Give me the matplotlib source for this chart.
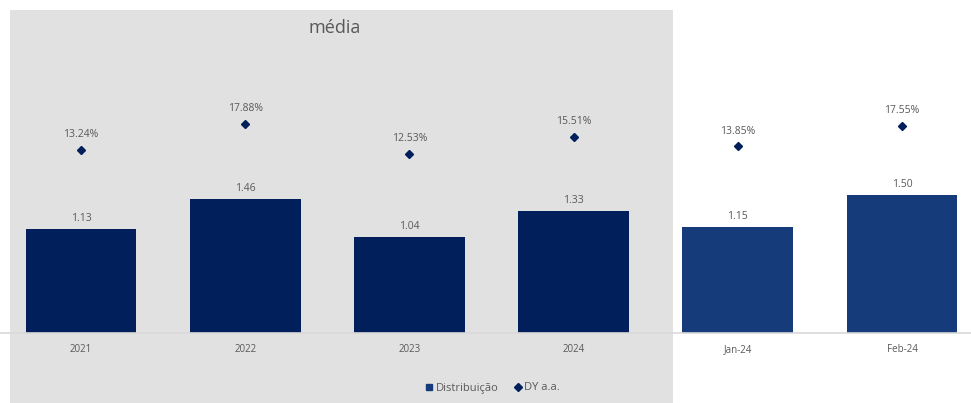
import matplotlib.pyplot as plt
from matplotlib.patches import Rectangle
from matplotlib.lines import Line2D

# Data
categories = ['2021', '2022', '2023', '2024', 'Jan-24', 'Feb-24']
distribuicao = [1.13, 1.46, 1.04, 1.33, 1.15, 1.50]
dy_aa = [0.1324, 0.1788, 0.1253, 0.1551, 0.1385, 0.1755]

navy = '#001f5b'
blue = '#163b7a'
text_gray = '#595959'
bar_colors = [navy, navy, navy, navy, blue, blue]

fig = plt.figure(figsize=(9.71, 4.03), dpi=100)

# Gray "média" panel behind the yearly bars
panel = Rectangle((10 / 971, 0), 663 / 971, 393 / 403,
                  transform=fig.transFigure, facecolor='#e1e1e1',
                  edgecolor='none', zorder=-10)
fig.add_artist(panel)
fig.text(335 / 971, 1 - 28 / 403, 'média', ha='center', va='center',
         fontsize=13, color=text_gray, family='Open Sans')

ax = fig.add_axes([0, 70 / 403, 1, 293 / 403])
ax.set_facecolor('none')
x = list(range(len(categories)))
ax.bar(x, distribuicao, width=0.675, color=bar_colors, zorder=2)
for xi, v in zip(x, distribuicao):
    ax.annotate(f'{v:.2f}', (xi, v), xytext=(0, 3.5), textcoords='offset points',
                ha='center', va='bottom', fontsize=7.5, color=text_gray,
                family='Open Sans')

ax.set_xlim(-81 / 164.2, -81 / 164.2 + 971 / 164.2)
ax.set_ylim(0, 293 / 92)
ax.set_xticks(x)
ax.set_xticklabels(categories, fontsize=7, color=text_gray, family='Open Sans')
ax.tick_params(axis='x', length=0, pad=8)
ax.set_yticks([])
for s in ['top', 'left', 'right']:
    ax.spines[s].set_visible(False)
ax.spines['bottom'].set_color('#d9d9d9')
ax.spines['bottom'].set_linewidth(1.2)

ax2 = ax.twinx()
ax2.plot(x, dy_aa, linestyle='none', marker='D', markersize=4, color=navy, zorder=3)
for xi, v in zip(x, dy_aa):
    ax2.annotate(f'{v * 100:.2f}%', (xi, v), xytext=(0, 7), textcoords='offset points',
                 ha='center', va='bottom', fontsize=7.5, color=text_gray,
                 family='Open Sans')
ax2.set_ylim(-0.1946, 0.3286)
ax2.set_yticks([])
for s in ['top', 'left', 'right', 'bottom']:
    ax2.spines[s].set_visible(False)

handles = [Line2D([], [], linestyle='none', marker='s', markersize=5, color=blue),
           Line2D([], [], linestyle='none', marker='D', markersize=4, color=navy)]
fig.legend(handles, ['Distribuição', 'DY a.a.'], loc='center',
           bbox_to_anchor=(492 / 971, 1 - 388 / 403), ncol=2, frameon=False,
           prop={'family': 'Open Sans', 'size': 8}, labelcolor=text_gray,
           handletextpad=0.1, columnspacing=1.2, handlelength=1)

fig.savefig('out.png', dpi=100)
